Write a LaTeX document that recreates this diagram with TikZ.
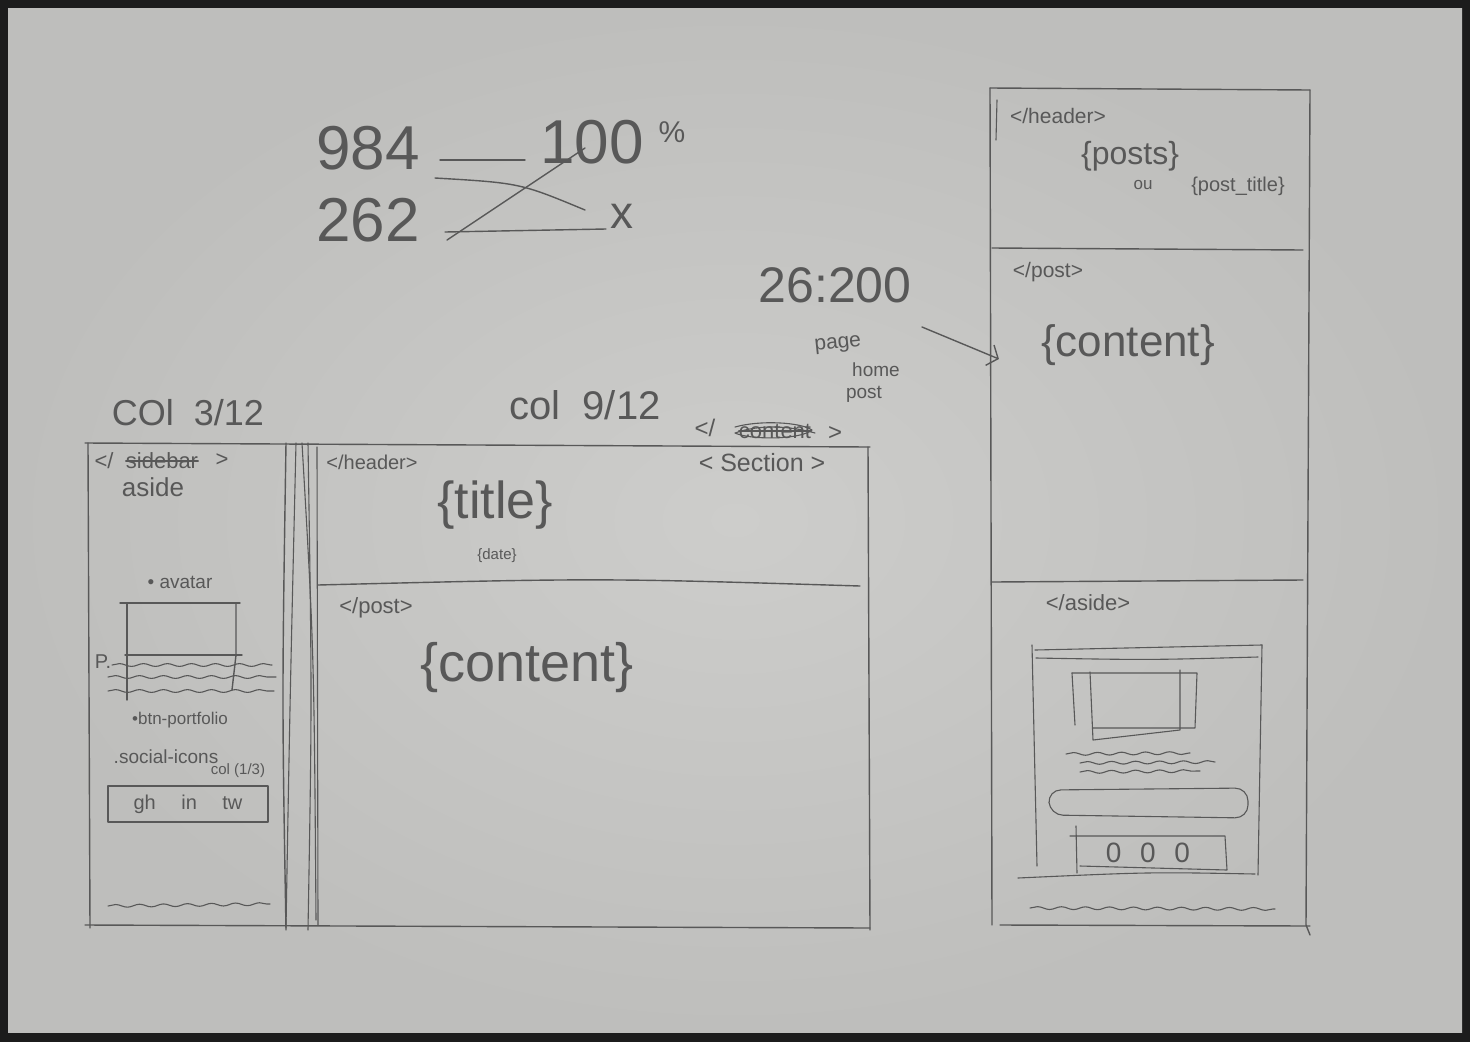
\documentclass[tikz,border=0pt]{standalone}
\usepackage{fontspec}
\setmainfont{Liberation Sans}
\usetikzlibrary{decorations.pathmorphing,arrows.meta,calc}
\definecolor{paper}{RGB}{190,190,188}
\definecolor{paperlight}{RGB}{205,205,203}
\definecolor{frame}{RGB}{28,28,28}
\definecolor{ink}{RGB}{88,88,88}
\newcommand{\hsz}[1]{\fontsize{#1}{#1}\selectfont}
\tikzset{
  pen/.style={draw=ink, line width=1.4pt, line cap=round, line join=round},
  thin pen/.style={draw=ink, line width=1.1pt, line cap=round, line join=round},
  wavy/.style={thin pen, decorate, decoration={snake, amplitude=1.4pt, segment length=24pt}},
  lbl/.style={text=ink, inner sep=0pt, font=\hsz{#1}},
  lbl/.default=24,
}
\begin{document}
\begin{tikzpicture}[x=1pt,y=-1pt]
\useasboundingbox (0,0) rectangle (1470,1042);
% paper on a dark table
\fill[frame] (0,0) rectangle (1470,1042);
\shade[inner color=paperlight, outer color=paper] (8,8) rectangle (1462,1032);

% ---- rule of three ----
\node[lbl=62] (n984) at (368,148) {984};
\node[lbl=62] (n100) at (592,142) {100};
\node[lbl=30] (pct)  at (672,132) {\%};
\node[lbl=62] (n262) at (368,220) {262};
\node[lbl=46] (nx)   at (622,216) {x};
\draw[pen] (440,160) -- (525,160);
\draw[pen] (445,232) -- (606,229);
\draw[pen] (435,178) .. controls (520,183) .. (585,210);
\draw[pen] (447,240) -- (585,148);

% ---- notes near the mobile layout ----
\node[lbl=50] (ratio) at (835,285) {26:200};
\node[lbl=21, rotate=6] (pg) at (838,345) {page};
\node[lbl=19] (hm) at (876,370) {home};
\node[lbl=19] (ps) at (864,394) {post};

% ---- desktop layout: column labels ----
\node[lbl=36] (c3) at (188,413) {COl \ 3/12};
\node[lbl=40] (c9) at (585,405) {col \ 9/12};

% sidebar + main frame
\draw[pen] (85,443) -- (870,447);
\draw[pen] (88,443) -- (90,928);
\draw[pen] (868,447) -- (870,930);
\draw[pen] (85,925) -- (870,928);
\draw[pen] (286,443) .. controls (282,700) .. (286,930);
\draw[thin pen] (296,443) .. controls (290,700) .. (286,928);
\draw[thin pen] (302,443) .. controls (314,650) .. (316,920);
\draw[thin pen] (308,443) .. controls (312,700) .. (308,930);
\draw[thin pen] (317,447) -- (318,925);

% sidebar contents
\node[lbl=22] (sbl) at (104,461) {</};
\node[lbl=22] (sbw) at (162,461) {sidebar};
\node[lbl=22] (sbr) at (222,460) {>};
\draw[thin pen] (sbw.west) -- (sbw.east);
\node[lbl=26] (aside) at (153,487) {aside};
\node[lbl=19] (avatar) at (180,582) {\textbullet\ avatar};
\draw[pen] (120,603) -- (240,603);
\draw[pen] (127,603) -- (127,700);
\draw[pen] (236,603) -- (236,655) -- (232,690);
\draw[pen] (125,655) -- (242,655);
\node[lbl=20] (pdot) at (103,662) {P.};
\draw[wavy] (112,665) -- (272,665);
\draw[wavy] (108,677) -- (276,677);
\draw[wavy] (108,691) -- (274,691);
\node[lbl=17] (btn) at (180,720) {\textbullet btn-portfolio};
\node[lbl=19] (soc) at (166,757) {.social-icons};
\node[lbl=15] (soccol) at (238,771) {col (1/3)};
\draw[pen] (108,786) rectangle (268,822);
\node[lbl=20] (icons) at (188,804) {gh \quad in \quad tw};
\draw[wavy] (108,906) -- (270,904);

% main column
\node[lbl=20] (mhead) at (372,462) {</header>};
\node[lbl=24] (cl) at (705,428) {</};
\node[lbl=22] (cw) at (775,431) {content};
\node[lbl=24] (cr) at (835,433) {>};
\draw[thin pen] (735,427) .. controls (760,420) and (800,422) .. (812,430)
  .. controls (800,440) and (750,440) .. (735,433)
  .. controls (760,424) and (790,426) .. (815,433);
\draw[thin pen] (cw.west) -- (cw.east);
\node[lbl=25] (sect) at (762,463) {< Section >};
\node[lbl=52] (title) at (495,505) {\{title\}};
\node[lbl=15] (date) at (497,556) {\{date\}};
\draw[pen] (318,585) .. controls (600,578) .. (860,586);
\node[lbl=22] (mpost) at (376,608) {</post>};
\node[lbl=54] (mcontent) at (527,668) {\{content\}};

% ---- mobile layout ----
\draw[pen] (990,88) -- (1310,90);
\draw[pen] (990,88) -- (992,925);
\draw[pen] (1310,90) -- (1306,925) -- (1310,935);
\draw[pen] (1000,925) -- (1310,926);
\draw[thin pen] (997,100) -- (996,140);
\draw[pen] (992,248) -- (1303,250);
\draw[pen] (992,582) -- (1303,580);
\node[lbl=21] (rhead) at (1058,116) {</header>};
\node[lbl=32] (rposts) at (1130,156) {\{posts\}};
\node[lbl=17] (rou) at (1143,185) {ou};
\node[lbl=20] (rtitle) at (1238,186) {\{post\_title\}};
\node[lbl=21] (rpost) at (1048,272) {</post>};
\node[lbl=44] (rcontent) at (1128,345) {\{content\}};
\node[lbl=22] (raside) at (1088,603) {</aside>};

% aside card
\draw[thin pen] (1035,650) -- (1262,645);
\draw[thin pen] (1036,658) .. controls (1150,660) .. (1258,657);
\draw[thin pen] (1032,645) -- (1037,866);
\draw[thin pen] (1262,645) -- (1258,875);
\draw[thin pen] (1072,673) -- (1197,673) -- (1195,728) -- (1093,728);
\draw[thin pen] (1072,673) -- (1075,725);
\draw[thin pen] (1090,672) -- (1093,740) -- (1180,730) -- (1180,670);
\draw[wavy] (1066,754) -- (1190,753);
\draw[wavy] (1080,763) -- (1215,762);
\draw[wavy] (1080,772) -- (1200,771);
\draw[thin pen, rounded corners=13pt] (1048,790) -- (1248,788) -- (1248,818) -- (1050,815) -- cycle;
\draw[thin pen] (1076,826) -- (1077,873);
\draw[thin pen] (1070,836) -- (1225,836) -- (1227,870) -- (1080,866);
\node[lbl=28] (dots) at (1148,853) {0\,\,\,\,0\,\,\,\,0};
\draw[thin pen] (1018,878) .. controls (1150,872) .. (1255,874);
\draw[wavy] (1030,908) -- (1275,909);

% note pointing at the post content
\coordinate (notept) at (922,327);
\draw[pen, -{Straight Barb[length=9pt,width=22pt]}] (notept) -- ($(rcontent.west)+(-42,14)$);
\end{tikzpicture}
\end{document}
